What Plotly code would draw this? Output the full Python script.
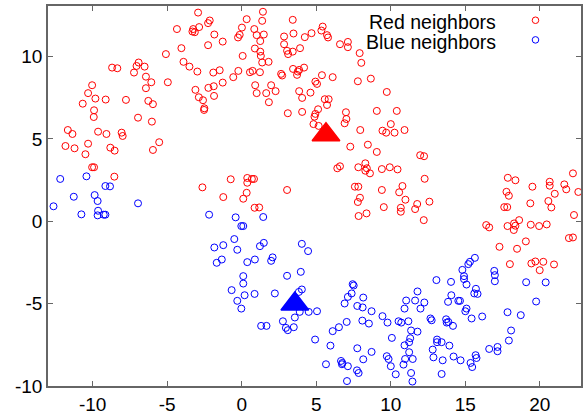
import plotly.graph_objects as go

# ---- data ----
red_x = [
    -5.09, -8.70, -8.35, -6.92, -7.06, -7.23, -6.52, -6.43, -6.07, -6.43, -4.96, -10.04, -10.31, -9.82, -9.13, -7.77, -10.67, -6.27, -5.96, -9.91, -9.93, -6.96, -6.03,
    -2.93, -4.35, -4.05, -3.26, -3.31, -3.15, -2.86, -2.26, -2.15, -1.84, -2.26, -1.28, -3.91, -3.51, -2.98, -1.91, -1.48, -3.11, -2.88, -2.60, -2.24, -1.88, -1.86, -1.28, -2.51, -2.53, -0.57, -0.23, -0.25, -0.14, 0.01, 0.33, 0.06, 0.55, 0.73, 1.22, 0.84, 1.00, 1.48, 1.24, 1.42, 1.37, 0.88, 1.24, 1.28, 1.37, 1.80, 0.90, 1.00, 1.64, 1.97, 2.27, 1.82, 2.64, 2.71, 2.84, 2.84, 3.04, 3.11, 3.42, 3.42, 3.47, 3.91, 4.23, 3.44, 3.76, 3.85, 3.71, 4.18, 3.85, 4.05, 3.09, 4.05,
    4.68, 5.43, 5.34, 5.72, 5.79, 6.59, 7.12, 7.12, 7.91, 8.02, 5.38, 6.10, 4.94, 5.05, 4.61, 7.79, 8.66, 9.73, 5.57, 5.83, 5.72, 5.12, 4.94, 4.88, 6.99, 7.02, 9.06, 10.40, 4.81, 5.16, 6.90, 10.00,
    -11.67, -11.36, -9.64, -9.08, -8.06, -7.99, -11.83, -11.22, -10.31, -10.49, -8.82, -8.53, -5.96, -5.54, -10.04, -9.91, -8.55,
    -2.64, -0.74, 0.37, 0.37, 0.68, 0.82, 3.04, -1.24, 0.33, 0.10, 0.86, 1.17,
    7.95, 9.44, 9.69, 10.25, 10.92, 7.28, 8.46, 9.06, 11.97, 12.23, 6.41, 6.59, 7.82, 8.29, 8.39, 8.29, 8.60, 9.40, 9.93, 10.45, 12.27, 7.59, 7.82, 9.40, 10.78, 10.56, 7.93, 7.79, 10.98, 9.53, 10.67, 10.67, 11.77, 11.63, 12.59, 7.84, 8.37, 12.21,
    22.22, 17.85, 18.36, 19.50, 20.66, 20.66, 21.64, 21.77, 22.58, 17.76, 17.92, 21.00, 19.36, 20.57, 20.77, 17.61, 17.81, 22.29, 16.40, 16.60, 17.83, 18.27, 18.61, 18.36, 18.25, 19.39, 19.95, 20.46, 19.06, 17.29, 18.47, 21.95, 22.22,
    17.99, 19.43, 19.70, 20.23, 19.99, 20.95,
]
red_y = [
    10.15, 9.33, 9.29, 9.64, 9.43, 9.03, 9.39, 8.78, 8.44, 8.08, 8.44, 8.26, 7.78, 7.45, 7.39, 7.37, 7.14, 7.31, 7.11, 6.74, 6.33, 6.29, 6.05,
    12.67, 11.67, 10.51, 11.67, 11.52, 11.48, 11.79, 12.03, 12.19, 11.34, 10.69, 10.91, 9.68, 9.39, 9.09, 9.03, 9.17, 7.98, 7.53, 7.35, 8.10, 8.20, 7.61, 8.42, 6.86, 6.76, 8.75, 9.13, 11.16, 11.32, 11.76, 12.27, 10.04, 9.05, 9.13, 9.05, 11.67, 11.30, 11.34, 10.94, 12.72, 12.17, 10.49, 10.30, 10.04, 9.64, 9.68, 8.26, 7.78, 7.78, 8.26, 7.90, 7.23, 8.95, 8.85, 11.22, 10.75, 10.35, 10.15, 10.30, 12.23, 11.40, 10.51, 11.18, 9.25, 9.09, 9.19, 8.89, 9.33, 7.90, 7.49, 6.56, 6.64,
    11.42, 11.82, 11.58, 11.30, 11.16, 10.75, 10.89, 10.57, 10.21, 9.62, 8.87, 8.75, 8.48, 8.34, 7.81, 8.50, 8.66, 7.85, 7.41, 7.41, 7.06, 6.80, 6.52, 6.35, 6.62, 6.21, 6.70, 6.70, 5.90, 5.79, 5.95, 5.90,
    5.54, 5.30, 5.44, 5.30, 5.38, 5.18, 4.57, 4.43, 4.71, 4.07, 4.47, 4.29, 4.33, 4.80, 3.28, 3.28, 2.71,
    2.06, 2.55, 2.63, 2.34, 2.57, 2.57, 1.90, 1.47, 1.73, 1.37, 0.82, 0.84,
    5.54, 5.50, 5.38, 5.38, 5.54, 4.53, 4.65, 4.21, 4.01, 3.95, 3.22, 3.34, 3.28, 3.52, 3.22, 3.07, 2.91, 3.17, 3.28, 3.15, 2.58, 2.10, 2.10, 1.90, 2.14, 1.76, 1.43, 1.17, 1.31, 0.86, 0.82, 0.58, 1.05, 0.74, 1.19, 0.32, 0.48, 0.07,
    2.91, 2.64, 2.49, 2.10, 2.40, 2.16, 2.24, 1.94, 1.78, 1.79, 1.55, 1.67, 1.09, 1.23, 0.84, 0.86, 0.86, 0.38, -0.23, -0.37, -0.29, -0.13, 0.07, -0.27, -0.53, -0.21, -0.29, -0.19, -1.22, -1.55, -1.67, -1.02, -0.98,
    -2.60, -2.56, -2.44, -2.46, -2.97, -2.62,
]

blue_x = [
    -12.18, -10.42, -9.15, -8.84, -11.27, -9.87, -9.67, -12.63, -6.96, -10.76, -9.64, -9.67, -9.26, -9.15,
    -2.19, -0.41, 1.44, -0.03, 0.10, -0.50, -1.84, -1.24, -0.30, 1.22, 1.48, 4.03, 4.45, -1.68, -1.34, 0.37, 0.88, 1.97, 2.07,
    0.10, 0.10, -0.68, 0.19, 0.86, -0.30, -0.03, 2.22, 3.04, 3.96, 4.03, 3.83, 3.89, 3.56, 2.76, 2.96, 3.09, 3.49, 1.30, 1.66,
    4.49, 5.05, 4.92, 5.65, 5.95, 6.10, 6.52, 6.90, 7.04, 7.12, 7.37, 7.44, 7.51, 7.75, 8.11, 8.15, 8.71, 8.09, 8.53, 7.75, 8.15, 8.71, 6.66, 6.75, 6.72, 7.12, 7.73, 7.84, 7.06, 9.44, 9.78, 10.07, 9.73, 9.85, 10.00, 10.33, 10.52, 10.70, 11.18, 10.92, 11.03, 11.63, 11.79, 11.99, 12.25, 11.36, 11.79, 11.30, 11.23, 10.92, 11.23, 10.96, 11.47, 10.85, 11.36, 11.45, 13.06, 12.66, 12.74, 13.10, 13.10, 13.41, 12.81, 12.86, 13.48, 13.41,
    15.31, 15.20, 14.80, 14.91, 14.91, 15.08, 14.04, 16.94, 16.98, 16.98, 19.08, 20.39, 15.71, 15.60, 15.82, 14.06, 13.84, 14.53, 14.64, 19.75, 15.08, 15.00, 15.42, 16.13, 17.83, 18.72, 13.71, 13.75, 13.86, 14.17, 18.07, 17.92, 13.93, 16.60, 17.16, 17.16, 14.21, 14.68, 15.69, 15.75, 15.35, 15.46,
    15.64,
]
blue_y = [
    2.57, 2.73, 2.14, 2.12, 1.49, 1.59, 1.23, 0.91, 1.09, 0.42, 0.64, 0.36, 0.40, 0.40,
    0.40, 0.24, 0.26, -0.29, -0.29, -1.08, -1.59, -1.45, -1.73, -1.51, -1.31, -1.37, -1.81, -2.52, -2.32, -2.48, -2.32, -2.40, -2.19,
    -3.33, -3.78, -4.18, -4.49, -4.41, -4.83, -5.30, -4.38, -3.31, -3.07, -4.14, -4.29, -5.50, -5.84, -6.07, -6.47, -6.61, -6.43, -6.35, -6.35,
    -5.50, -5.46, -7.18, -8.68, -7.55, -6.67, -6.43, -4.99, -6.11, -4.59, -4.38, -3.82, -3.90, -5.14, -5.23, -4.63, -5.46, -6.03, -6.21, -7.71, -8.38, -7.93, -8.48, -8.60, -8.68, -8.80, -9.05, -9.21, -9.70, -5.76, -6.15, -7.08, -8.19, -8.36, -8.80, -9.29, -6.07, -6.15, -6.07, -5.30, -4.81, -4.81, -4.26, -5.30, -4.93, -6.63, -6.70, -7.10, -7.34, -7.53, -7.95, -8.36, -8.36, -8.70, -9.21, -9.73, -3.57, -5.90, -6.01, -7.18, -7.34, -7.34, -7.79, -8.26, -8.44, -9.27,
    -2.46, -2.60, -2.95, -3.33, -3.51, -3.84, -3.68, -3.01, -3.27, -3.64, -3.70, -3.71, -4.10, -4.38, -4.41, -4.49, -4.89, -4.83, -4.83, -4.87, -5.30, -5.46, -5.90, -5.78, -5.52, -5.70, -5.95, -6.15, -6.11, -6.35, -6.63, -7.24, -7.55, -7.75, -7.63, -7.89, -8.21, -8.44, -8.13, -8.30, -8.60, -8.85,
    -2.22,
]

red_query = [5.65, 5.26]
blue_query = [3.56, -5.02]

x_ticks = [-10, -5, 0, 5, 10, 15, 20]
x_tick_labels = ["-10", "-5", "0", "5", "10", "15", "20"]
y_ticks = [-10, -5, 0, 5, 10]
y_tick_labels = ["-10", "-5", "0", "5", "10"]
legend_labels = ["Red neighbors", "Blue neighbors"]

RED = "#ff0000"
BLUE = "#0000ff"
FONT = "Liberation Sans, Arial, Helvetica, sans-serif"

fig = go.Figure()
fig.add_trace(go.Scatter(x=red_x, y=red_y, mode="markers", name=legend_labels[0],
                         marker=dict(symbol="circle-open", size=7, color=RED, line=dict(width=1, color=RED))))
fig.add_trace(go.Scatter(x=blue_x, y=blue_y, mode="markers", name=legend_labels[1],
                         marker=dict(symbol="circle-open", size=7, color=BLUE, line=dict(width=1, color=BLUE))))
fig.add_trace(go.Scatter(x=[red_query[0]], y=[red_query[1]], mode="markers",
                         marker=dict(symbol="triangle-up", size=24, color=RED, line=dict(width=1.5, color=RED))))
fig.add_trace(go.Scatter(x=[blue_query[0]], y=[blue_query[1]], mode="markers",
                         marker=dict(symbol="triangle-up", size=24, color=BLUE, line=dict(width=1.5, color=BLUE))))

axis_common = dict(showgrid=False, zeroline=False, showline=True, linecolor="#666666", linewidth=1.5,
                   mirror="ticks", ticks="inside", ticklen=5, tickwidth=1, tickcolor="#666666",
                   tickfont=dict(family=FONT, size=19, color="black"))
fig.update_xaxes(range=[-13, 22.76], tickvals=x_ticks, ticktext=x_tick_labels, **axis_common)
fig.update_yaxes(range=[-10, 13.07], tickvals=y_ticks, ticktext=y_tick_labels, **axis_common)

# gnuplot-style key: right-justified text, sample to the right
text_x = 0.8440
samp_x = 0.9146
rows_y = [0.958, 0.9055]
samp_y = [0.9625, 0.9108]
colors = [RED, BLUE]
rx, ry = 3.3 / 535, 3.3 / 381
for lab, ty, sy, c in zip(legend_labels, rows_y, samp_y, colors):
    fig.add_annotation(x=text_x, y=ty, xref="paper", yref="paper", text=lab, showarrow=False,
                       xanchor="right", yanchor="middle", font=dict(family=FONT, size=19.5, color="black"))
    fig.add_shape(type="circle", xref="paper", yref="paper", x0=samp_x - rx, x1=samp_x + rx,
                  y0=sy - ry, y1=sy + ry, line=dict(color=c, width=1))

fig.update_layout(width=584, height=416, margin=dict(l=48, r=1, t=6, b=29),
                  plot_bgcolor="white", paper_bgcolor="white", showlegend=False,
                  font=dict(family=FONT))
fig.write_html("out.html")
